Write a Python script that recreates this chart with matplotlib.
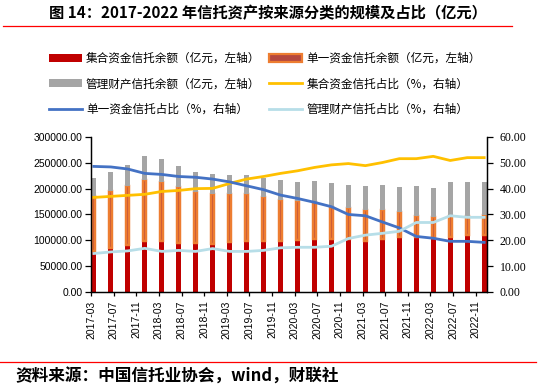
import numpy as np
import matplotlib
matplotlib.use('Agg')
import matplotlib.pyplot as plt
from matplotlib.lines import Line2D
from matplotlib.patches import Patch

plt.rcParams['font.family'] = ['Noto Sans CJK SC', 'DejaVu Sans']

# 季度数据（亿元 / %）
quarters = ['2017-03', '2017-06', '2017-09', '2017-12',
            '2018-03', '2018-06', '2018-09', '2018-12',
            '2019-03', '2019-06', '2019-09', '2019-12',
            '2020-03', '2020-06', '2020-09', '2020-12',
            '2021-03', '2021-06', '2021-09', '2021-12',
            '2022-03', '2022-06', '2022-09', '2022-12']

jihe_amt = [80100, 85900, 91700, 99400, 99400, 95500, 95000, 93000,
            96300, 99400, 99400, 99400, 101400, 103000, 103000, 101800,
            99100, 103400, 105500, 105600, 103700, 107200, 109500, 111000]
danyi_amt = [104900, 108800, 112700, 117900, 114000, 106900, 97700, 95900,
             92600, 89500, 83700, 77800, 74600, 70500, 61000, 60200,
             58800, 55400, 50200, 42000, 42300, 40400, 37500, 37600]
guanli_amt = [35200, 36600, 40400, 44900, 43000, 40500, 38600, 38500,
              36600, 36600, 37100, 38600, 37500, 40400, 46000, 44100,
              46300, 47300, 48300, 58200, 56200, 64800, 65400, 63800]

jihe_pct = [36.6, 37.0, 37.4, 37.8, 38.9, 39.3, 40.0, 40.1,
            42.0, 43.7, 44.7, 45.9, 46.9, 48.2, 49.2, 49.7,
            48.9, 50.1, 51.6, 51.6, 52.5, 50.9, 52.0, 52.0]
danyi_pct = [48.6, 48.4, 47.6, 45.9, 45.5, 44.7, 44.4, 43.7,
             42.6, 41.1, 39.6, 37.5, 36.2, 34.7, 33.0, 30.0,
             29.5, 27.1, 24.8, 21.5, 20.8, 19.6, 19.6, 19.2]
guanli_pct = [14.9, 15.5, 15.9, 16.9, 15.7, 16.1, 15.7, 16.8,
              15.7, 15.7, 16.1, 17.1, 17.3, 17.3, 17.7, 20.7,
              22.0, 22.7, 23.5, 26.9, 26.9, 29.5, 28.9, 28.9]

tick_labels = ['2017-03', '2017-07', '2017-11', '2018-03', '2018-07', '2018-11',
               '2019-03', '2019-07', '2019-11', '2020-03', '2020-07', '2020-11',
               '2021-03', '2021-07', '2021-11', '2022-03', '2022-07', '2022-11']


def month_idx(s):
    y, m = s.split('-')
    return (int(y) - 2017) * 12 + int(m) - 3


x = np.array([month_idx(q) for q in quarters])
tick_pos = [month_idx(t) - 0.5 for t in tick_labels]
bottom2 = np.array(jihe_amt) + np.array(danyi_amt)

fig = plt.figure(figsize=(5.47, 3.89), dpi=100)
ax = fig.add_axes([0.1664, 0.2494, 0.7239, 0.3985])
ax2 = ax.twinx()

# 柱状图（堆叠）
ax.bar(x, jihe_amt, width=0.93, color='#C00000', linewidth=0)
ax.bar(x, danyi_amt, width=0.5, bottom=jihe_amt, color='#B5483F',
       edgecolor='#ED7D31', linewidth=1.75)
ax.bar(x, guanli_amt, width=0.93, bottom=bottom2, color='#A5A5A5', linewidth=0)

# 占比折线
ax2.plot(x, jihe_pct, color='#FFC000', linewidth=2)
ax2.plot(x, danyi_pct, color='#4472C4', linewidth=2)
ax2.plot(x, guanli_pct, color='#B7DEE8', linewidth=2)

ax.set_xlim(-0.5, 69.5)
ax.set_ylim(0, 300000)
ax2.set_ylim(0, 60)
ax.set_yticks(np.arange(0, 300001, 50000))
ax2.set_yticks(np.arange(0, 61, 10))
ax.set_yticklabels(['%.2f' % v for v in np.arange(0, 300001, 50000)],
                   fontsize=7.5, fontname='Liberation Sans')
ax2.set_yticklabels(['%.2f' % v for v in np.arange(0, 61, 10)],
                    fontsize=8.5, fontname='Liberation Serif')
ax.set_xticks(tick_pos)
ax.set_xticklabels(tick_labels, rotation=90, fontsize=7.5, fontname='Liberation Sans')

for a in (ax, ax2):
    a.spines['top'].set_visible(False)
    for s in ('left', 'right', 'bottom'):
        a.spines[s].set_color('black')
        a.spines[s].set_linewidth(0.9)
ax.tick_params(axis='y', direction='out', length=4, width=0.9, pad=2)
ax.tick_params(axis='x', direction='out', length=3, width=0.9, pad=3)
ax2.tick_params(axis='y', direction='out', length=4, width=0.9, pad=5)

# 图例
handles = [Patch(facecolor='#C00000'),
           Patch(facecolor='#A5A5A5'),
           Line2D([], [], color='#4472C4', linewidth=2),
           Patch(facecolor='#B5483F', edgecolor='#ED7D31', linewidth=1.6),
           Line2D([], [], color='#FFC000', linewidth=2),
           Line2D([], [], color='#B7DEE8', linewidth=2)]
labels = ['集合资金信托余额（亿元，左轴）', '管理财产信托余额（亿元，左轴）',
          '单一资金信托占比（%，右轴）', '单一资金信托余额（亿元，左轴）',
          '集合资金信托占比（%，右轴）', '管理财产信托占比（%，右轴）']
fig.legend(handles, labels, loc='upper left', bbox_to_anchor=(49 / 547, 1 - 52 / 389),
           ncol=2, frameon=False, fontsize=8.4, handlelength=2.83, handletextpad=0.34,
           columnspacing=0.77, labelspacing=1.07, borderpad=0, borderaxespad=0)

# 标题与来源
fig.text(0.489, 1 - 13 / 389, '图 14：2017-2022 年信托资产按来源分类的规模及占比（亿元）',
         ha='center', va='center', fontsize=11, fontweight='bold')
fig.add_artist(Line2D([3 / 547, 512 / 547], [1 - 26 / 389, 1 - 26 / 389],
                      color='#FF0000', linewidth=0.9))
fig.add_artist(Line2D([0.0, 536 / 547], [1 - 362 / 389, 1 - 362 / 389],
                      color='#FF0000', linewidth=0.9))
fig.text(15 / 547, 1 - 377 / 389, '资料来源：中国信托业协会，wind，财联社',
         ha='left', va='center', fontsize=12, fontweight='bold', style='italic')

fig.savefig('out.png', dpi=100)
